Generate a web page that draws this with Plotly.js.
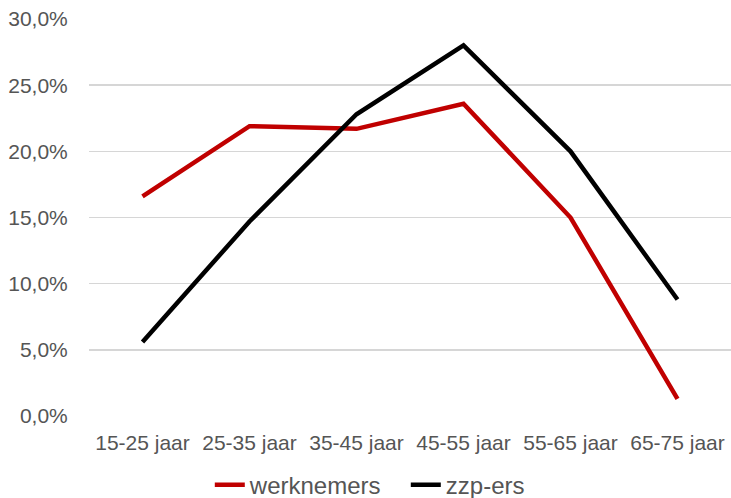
<!DOCTYPE html>
<html>
<head>
<meta charset="utf-8">
<script src="https://cdn.plot.ly/plotly-3.0.1.min.js"></script>
<style>html,body{margin:0;padding:0;background:#fff;}#chart{width:731px;height:498px;}</style>
</head>
<body>
<div id="chart"></div>
<script>
var categories = ['15-25 jaar', '25-35 jaar', '35-45 jaar', '45-55 jaar', '55-65 jaar', '65-75 jaar'];
var werknemers = [16.6, 21.9, 21.7, 23.6, 15.0, 1.3];
var zzpErs = [5.6, 14.7, 22.8, 28.0, 20.0, 8.8];
var yTicks = [0, 5, 10, 15, 20, 25, 30];
var yTickLabels = ['0,0%', '5,0%', '10,0%', '15,0%', '20,0%', '25,0%', '30,0%'];

var traces = [
  {x: categories, y: werknemers, name: 'werknemers', type: 'scatter', mode: 'lines',
   line: {color: '#c00000', width: 4.5}},
  {x: categories, y: zzpErs, name: 'zzp-ers', type: 'scatter', mode: 'lines',
   line: {color: '#000000', width: 4.5}}
];

var layout = {
  width: 731, height: 498,
  margin: {l: 89, r: 0, t: 19, b: 82},
  paper_bgcolor: '#fff', plot_bgcolor: '#fff',
  font: {family: 'Liberation Sans, Arial, sans-serif', color: '#555', size: 21},
  showlegend: true,
  legend: {orientation: 'h', xref: 'container', yref: 'container', x: 0.287, xanchor: 'left',
           y: 0.026, yanchor: 'middle', font: {size: 24, color: '#555'}, itemwidth: 30,
           entrywidth: 151},
  xaxis: {type: 'category', range: [-0.5, 5.5], showgrid: false, zeroline: false, showline: false,
          ticks: 'outside', ticklen: 8, tickcolor: 'rgba(0,0,0,0)',
          tickfont: {size: 21, color: '#555'}, fixedrange: true},
  yaxis: {range: [0, 30], tickvals: yTicks, ticktext: yTickLabels,
          showgrid: true, gridcolor: '#d6d6d6', gridwidth: 1.5, zeroline: false,
          showline: false, ticks: 'outside', ticklen: 16, tickcolor: 'rgba(0,0,0,0)',
          tickfont: {size: 21, color: '#555'}, fixedrange: true}
};

Plotly.newPlot('chart', traces, layout, {displayModeBar: false, staticPlot: true});
</script>
</body>
</html>
